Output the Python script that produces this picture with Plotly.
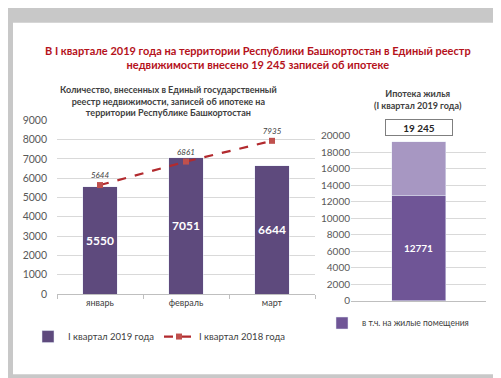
import plotly.graph_objects as go

months = ["январь", "февраль", "март"]
q1_2019 = [5550, 7051, 6644]
q1_2018 = [5644, 6861, 7935]
total_label = "19 245"
total_2019 = 19245
housing_2019 = 12771
other_2019 = total_2019 - housing_2019

W, H = 501, 378
def px(x): return x / W
def py(y): return 1 - y / H

FONT = "Lato"
fig = go.Figure()

fig.add_trace(go.Bar(
    x=months, y=q1_2019, name="I квартал 2019 года",
    marker=dict(color="#5E4A7D"), width=0.4,
    text=[str(v) for v in q1_2019], textposition="inside", insidetextanchor="middle",
    textfont=dict(color="white", size=12, family=FONT, weight="bold"),
    xaxis="x", yaxis="y", legend="legend", cliponaxis=False,
))
fig.add_trace(go.Scatter(
    x=months, y=q1_2018, name="I квартал 2018 года", mode="lines+markers+text",
    line=dict(color="#B22A2E", width=2.2, dash="dash"),
    marker=dict(symbol="square", size=6, color="#C0504D"),
    text=[str(v) for v in q1_2018], textposition="top center",
    textfont=dict(color="#404040", size=8, family=FONT, style="italic"),
    xaxis="x", yaxis="y", legend="legend", cliponaxis=False,
))
fig.add_trace(go.Bar(
    x=["Ипотека"], y=[housing_2019], name="в т.ч. на жилые помещения",
    marker=dict(color="#6F5596"), width=0.4,
    text=[str(housing_2019)], textposition="inside", insidetextanchor="middle",
    textfont=dict(color="white", size=10, family=FONT, weight="bold"),
    xaxis="x2", yaxis="y2", legend="legend2",
))
fig.add_trace(go.Bar(
    x=["Ипотека"], y=[other_2019], name="прочие",
    marker=dict(color="#A797C2"), width=0.4, showlegend=False,
    xaxis="x2", yaxis="y2", hoverinfo="skip",
))

grid = "#D9D9D9"
fig.update_layout(
    width=W, height=H, margin=dict(l=0, r=0, t=0, b=0),
    paper_bgcolor="#C8C8C8", plot_bgcolor="rgba(0,0,0,0)",
    barmode="stack", showlegend=True,
    font=dict(family=FONT),
    xaxis=dict(domain=[px(49), px(307)], showgrid=False, showline=True, linecolor="#BFBFBF",
               ticks="outside", tickson="boundaries", tickcolor="#BFBFBF", ticklen=4,
               tickfont=dict(family=FONT, size=9, color="#404040"), anchor="y"),
    yaxis=dict(domain=[py(289), py(109)], range=[0, 9000], dtick=1000, showgrid=True,
               gridcolor=grid, zeroline=False, showline=False,
               tickfont=dict(family=FONT, size=10.5, color="#595959"),
               ticks="", ticklabelstandoff=9, anchor="x"),
    xaxis2=dict(domain=[px(343), px(478)], range=[-0.5, 0.5], showgrid=False, showline=True,
                linecolor="#BFBFBF", showticklabels=False, anchor="y2"),
    yaxis2=dict(domain=[py(296), py(125)], range=[0, 20000], dtick=2000, tickformat="d",
                showgrid=True, gridcolor=grid, zeroline=False,
                tickfont=dict(family=FONT, size=10, color="#595959"), anchor="x2"),
    legend=dict(orientation="h", x=px(20), y=py(333), xanchor="left", yanchor="middle",
                traceorder="normal", entrywidth=86, entrywidthmode="pixels",
                font=dict(family=FONT, size=9.5, color="#404040"), bgcolor="rgba(0,0,0,0)",
                itemwidth=30, tracegroupgap=0),
    legend2=dict(orientation="h", x=px(314), y=py(319), xanchor="left", yanchor="middle",
                 font=dict(family=FONT, size=8.5, color="#404040"), bgcolor="rgba(0,0,0,0)",
                 itemwidth=30),
)

fig.add_shape(type="rect", xref="paper", yref="paper", x0=px(5), x1=px(496), y0=py(372), y1=py(8),
              fillcolor="white", line=dict(width=0), layer="below")

fig.add_annotation(xref="paper", yref="paper", x=px(250), y=py(44), xanchor="center", yanchor="middle",
                   text="<b>В I квартале 2019 года на территории Республики Башкортостан в Единый реестр<br>недвижимости внесено 19 245 записей об ипотеке</b>",
                   showarrow=False, font=dict(family=FONT, size=11, color="#B5121B"))
fig.add_annotation(xref="paper", yref="paper", x=px(160), y=py(89), xanchor="center", yanchor="middle",
                   text="<b>Количество, внесенных в Единый государственный<br>реестр недвижимости, записей об ипотеке на<br>территории Республике Башкортостан</b>",
                   showarrow=False, font=dict(family=FONT, size=9, color="#404040"))
fig.add_annotation(xref="paper", yref="paper", x=px(410), y=py(87), xanchor="center", yanchor="middle",
                   text="<b>Ипотека жилья<br>(I квартал 2019 года)</b>",
                   showarrow=False, font=dict(family=FONT, size=9, color="#404040"))
fig.add_annotation(xref="paper", yref="paper", x=px(411), y=py(117), xanchor="center", yanchor="middle",
                   text="<b>" + total_label + "</b>", showarrow=False, width=64, height=13,
                   bordercolor="#7F7F7F", borderwidth=1, bgcolor="white", borderpad=1,
                   font=dict(family=FONT, size=10, color="#262626"))

fig.write_html("out.html")
